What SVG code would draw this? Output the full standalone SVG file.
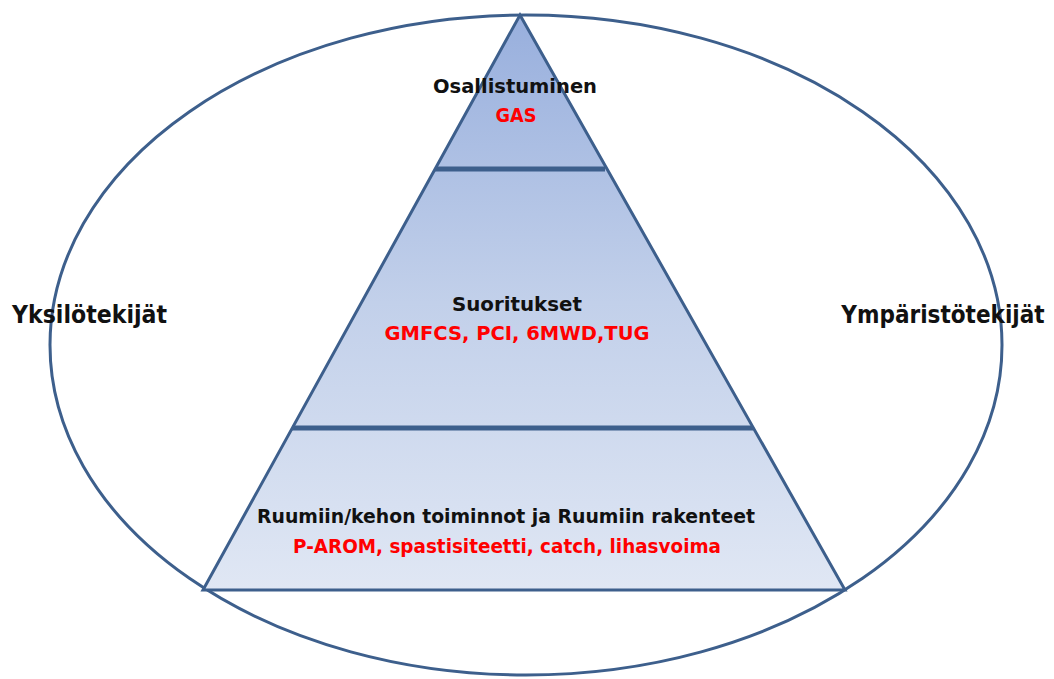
<svg xmlns="http://www.w3.org/2000/svg" width="1054" height="679" viewBox="0 0 1054 679">
<defs>
<linearGradient id="pyr" gradientUnits="userSpaceOnUse" x1="0" y1="15" x2="0" y2="590">
<stop offset="0" stop-color="#98afdd"/>
<stop offset="0.5" stop-color="#c2d0ea"/>
<stop offset="1" stop-color="#e0e7f4"/>
</linearGradient>
<style>
.ln{stroke:#3d5f8c;fill:none}
.pyr{stroke:#3d5f8c;fill:url(#pyr)}
.t{font-family:"DejaVu Sans","Liberation Sans",sans-serif;font-weight:bold;text-anchor:middle}
.k{fill:#111111}
.r{fill:#ff0000}
</style>
</defs>
<rect width="1054" height="679" fill="#ffffff"/>
<g id="context">
<ellipse class="ln" cx="526" cy="345" rx="476" ry="330" stroke-width="3"/>
</g>
<g id="pyramid">
<polygon points="520,15 845,590 203,590" class="pyr" stroke-width="3" stroke-linejoin="miter"/>
</g>
<g id="connectors">
<line class="ln" x1="435" y1="169" x2="605" y2="169" stroke-width="5"/>
<line class="ln" x1="292" y1="428" x2="753" y2="428" stroke-width="5"/>
</g>
<g id="level-top">
<text class="t k" x="515" y="93" font-size="19" textLength="164" lengthAdjust="spacingAndGlyphs">Osallistuminen</text>
<text class="t r" x="516" y="122" font-size="19" textLength="41" lengthAdjust="spacingAndGlyphs">GAS</text>
</g>
<g id="level-middle">
<text class="t k" x="517" y="311" font-size="19" textLength="130" lengthAdjust="spacingAndGlyphs">Suoritukset</text>
<text class="t r" x="517" y="340" font-size="19" textLength="265" lengthAdjust="spacingAndGlyphs">GMFCS, PCI, 6MWD,TUG</text>
</g>
<g id="level-bottom">
<text class="t k" x="506" y="523" font-size="19" textLength="498" lengthAdjust="spacingAndGlyphs">Ruumiin/kehon toiminnot ja Ruumiin rakenteet</text>
<text class="t r" x="507" y="553" font-size="19" textLength="428" lengthAdjust="spacingAndGlyphs">P-AROM, spastisiteetti, catch, lihasvoima</text>
</g>
<g id="individual">
<text class="t k" x="89.5" y="323" font-size="24" textLength="155" lengthAdjust="spacingAndGlyphs">Yksilötekijät</text>
</g>
<g id="environment">
<text class="t k" transform="translate(943,323) scale(0.9,1)" x="0" y="0" font-size="24">Ympäristötekijät</text>
</g>
</svg>
